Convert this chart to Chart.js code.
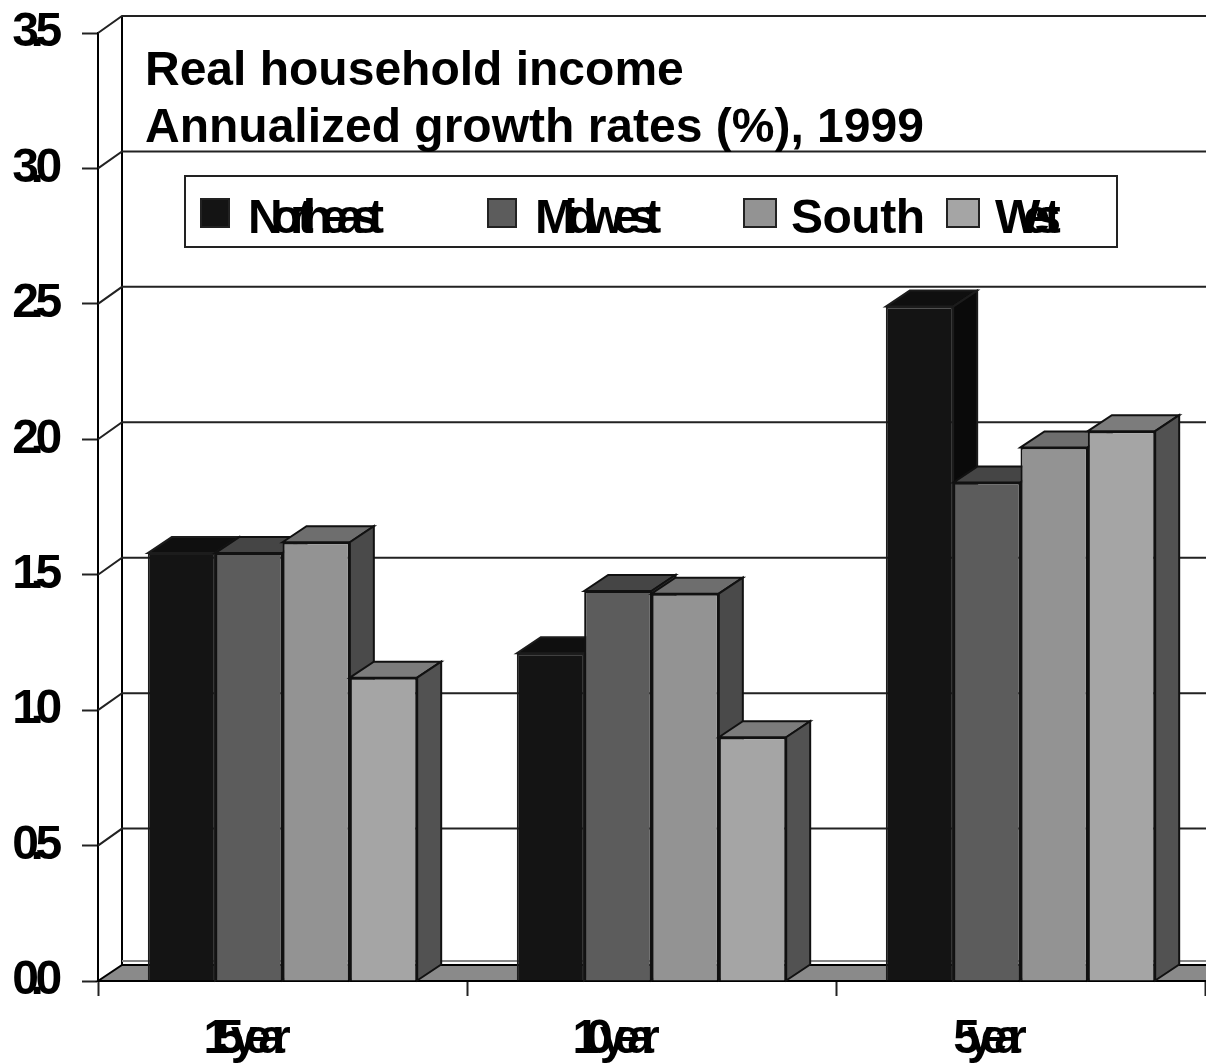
<!DOCTYPE html>
<html>
<head>
<meta charset="utf-8">
<title>Real household income</title>
<script src="https://cdn.jsdelivr.net/npm/chart.js@4"></script>
<style>
    body { margin: 0; background: #fff; }
    canvas { display: block; }
</style>
</head>
<body>
<canvas id="incomeChart" width="1206" height="1064"></canvas>
<script>
const categories = ['15year', '10year', '5year'];
const yTickLabels = ['0.0', '0.5', '1.0', '1.5', '2.0', '2.5', '3.0', '3.5'];
const regions = ['Northeast', 'Midwest', 'South', 'West'];
const northeast = [1.58, 1.21, 2.49];
const midwest = [1.58, 1.44, 1.84];
const south = [1.62, 1.43, 1.97];
const west = [1.12, 0.90, 2.03];
const titleLines = ['Real household income', 'Annualized growth rates (%), 1999'];

const frontColors = ['#141414', '#5c5c5c', '#939393', '#a5a5a5'];
const topColors = ['#0f0f0f', '#454545', '#6e6e6e', '#7c7c7c'];
const sideColors = ['#0a0a0a', '#414141', '#4a4a4a', '#525252'];

const FONT = 'bold 48px "Liberation Sans"';
const DX = 24, DY = -16; // depth of the 3D box
const GRID_DY = -17;

function face(ctx, points, fill) {
    ctx.beginPath();
    points.forEach((p, i) => i ? ctx.lineTo(p[0], p[1]) : ctx.moveTo(p[0], p[1]));
    ctx.closePath();
    ctx.fillStyle = fill;
    ctx.fill();
    ctx.stroke();
}

// walls, floor and the back grid lines
function drawWalls(chart) {
    const { ctx, chartArea: a, scales: { y } } = chart;
    ctx.save();
    ctx.strokeStyle = '#000';
    ctx.lineWidth = 2;
    const floorY = y.getPixelForValue(0);
    face(ctx, [[a.left, floorY], [a.left + DX, floorY + DY], [chart.width + 2, floorY + DY], [chart.width + 2, floorY]], '#8a8a8a');
    ctx.beginPath();
    ctx.moveTo(a.left + DX, y.getPixelForValue(3.5) + GRID_DY);
    ctx.lineTo(a.left + DX, floorY + DY);
    ctx.stroke();
    yTickLabels.forEach((t, i) => {
        const py = y.getPixelForValue(i * 0.5);
        ctx.strokeStyle = i === 0 ? '#888' : '#222';
        ctx.beginPath();
        if (i === 0) {
            ctx.moveTo(a.left + DX, floorY + DY - 4);
        } else {
            ctx.moveTo(a.left, py);
            ctx.lineTo(a.left + DX, py + GRID_DY);
        }
        ctx.lineTo(chart.width, i === 0 ? floorY + DY - 4 : py + GRID_DY);
        ctx.stroke();
    });
    ctx.restore();
}

// top and right faces of one bar, the front face comes from the controller
function drawBarDepth(chart, index) {
    const { ctx } = chart;
    ctx.save();
    ctx.strokeStyle = index === 0 ? '#1c1c1c' : '#111';
    ctx.lineWidth = 2;
    chart.getDatasetMeta(index).data.forEach(bar => {
        const l = bar.x - bar.width / 2, r = bar.x + bar.width / 2;
        face(ctx, [[l, bar.y], [l + DX, bar.y + DY], [r + DX, bar.y + DY], [r, bar.y]], topColors[index]);
        face(ctx, [[r, bar.y], [r + DX, bar.y + DY], [r + DX, bar.base + DY], [r, bar.base]], sideColors[index]);
    });
    ctx.restore();
}

function drawHeading(ctx) {
    ctx.save();
    ctx.font = FONT;
    ctx.fillStyle = '#000';
    ctx.textBaseline = 'alphabetic';
    ctx.fillText(titleLines[0], 145, 85);
    ctx.fillText(titleLines[1], 145, 142);
    ctx.restore();
}

function drawKey(ctx) {
    const swatchX = [201, 488, 744, 947];
    const swatchW = [28, 28, 32, 32];
    const textX = [248, 535, 791, 995];
    const spacing = ['-11px', '-10.5px', '-0.5px', '-16px'];
    ctx.save();
    ctx.fillStyle = '#fff';
    ctx.strokeStyle = '#222';
    ctx.lineWidth = 2;
    ctx.fillRect(185, 176, 932, 71);
    ctx.strokeRect(185, 176, 932, 71);
    ctx.font = FONT;
    ctx.textBaseline = 'alphabetic';
    regions.forEach((name, i) => {
        ctx.fillStyle = frontColors[i];
        ctx.fillRect(swatchX[i], 199, swatchW[i], 28);
        ctx.strokeRect(swatchX[i], 199, swatchW[i], 28);
        ctx.fillStyle = '#000';
        ctx.letterSpacing = spacing[i];
        ctx.fillText(name, textX[i], 233);
    });
    ctx.restore();
}

// tick text is set very tight, each axis has its own tracking
function trackLabels(scale, spacing, shifts) {
    if (scale.trackingSet) return;
    const drawLabels = scale.drawLabels;
    scale.drawLabels = function (area) {
        const ctx = this.ctx;
        if (shifts) {
            this.getLabelItems(area).forEach((item, i) => { item.options.translation[0] += shifts[i]; });
        }
        ctx.save();
        ctx.letterSpacing = spacing;
        drawLabels.call(this, area);
        ctx.restore();
    };
    scale.trackingSet = true;
}

const boxPlugin = {
    id: 'box3d',
    beforeDraw(chart) {
        trackLabels(chart.scales.y, '-8.3px');
        trackLabels(chart.scales.x, '-13px', [-42, -42, -37]);
    },
    beforeDatasetsDraw(chart) {
        drawWalls(chart);
        // painted left to right, so each bar covers the side of the previous one
        chart.data.datasets.forEach((ds, i) => {
            drawBarDepth(chart, i);
            chart.getDatasetMeta(i).controller.draw();
        });
        return false;
    },
    afterDraw(chart) {
        drawHeading(chart.ctx);
        drawKey(chart.ctx);
    }
};

const seriesValues = [northeast, midwest, south, west];

new Chart(document.getElementById('incomeChart').getContext('2d'), {
    type: 'bar',
    data: {
        labels: categories,
        datasets: regions.map((name, i) => ({
            label: name,
            data: seriesValues[i],
            backgroundColor: frontColors[i],
            borderColor: i === 0 ? '#1c1c1c' : '#111',
            borderWidth: 2
        }))
    },
    options: {
        responsive: false,
        animation: false,
        devicePixelRatio: 1,
        categoryPercentage: 0.73,
        barPercentage: 1,
        layout: { padding: { top: 33, right: 1, left: 0, bottom: 0 } },
        plugins: {
            legend: { display: false },
            title: { display: false },
            tooltip: { enabled: false }
        },
        scales: {
            x: {
                afterFit: scale => {
                    scale.height = 83;
                    scale.paddingLeft = 0;
                    scale.paddingRight = 0;
                },
                grid: { drawOnChartArea: false, tickLength: 15, tickColor: '#222', tickWidth: 2 },
                border: { color: '#000', width: 2 },
                ticks: {
                    color: '#000',
                    font: { family: '"Liberation Sans"', size: 48, weight: 'bold' },
                    maxRotation: 0,
                    autoSkip: false,
                    padding: 15
                }
            },
            y: {
                min: 0,
                max: 3.5,
                afterFit: scale => {
                    scale.width = 98;
                    scale.paddingTop = 0;
                    scale.paddingBottom = 0;
                },
                grid: { drawOnChartArea: false, tickLength: 16, tickColor: '#222', tickWidth: 2 },
                border: { color: '#000', width: 2 },
                ticks: {
                    color: '#000',
                    font: { family: '"Liberation Sans"', size: 48, weight: 'bold' },
                    stepSize: 0.5,
                    padding: 28,
                    callback: (v, i) => yTickLabels[i]
                }
            }
        }
    },
    plugins: [boxPlugin]
});
</script>
</body>
</html>
